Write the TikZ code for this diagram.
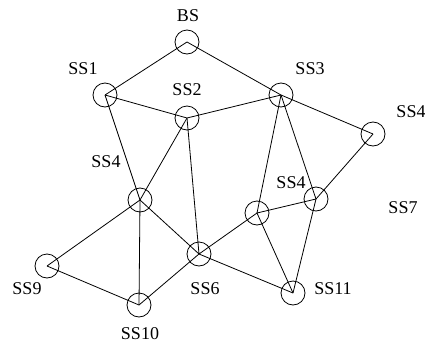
\documentclass[tikz,border=0pt]{standalone}
\usepackage{fontspec}
\setmainfont{Liberation Serif}
\usetikzlibrary{positioning}
\tikzset{
  station/.style = {draw, circle, line width=0.8pt, minimum size=24pt, inner sep=0pt},
  tag/.style     = {font=\fontsize{18}{20}\selectfont, inner sep=0pt},
  link/.style    = {draw, line width=0.8pt}
}

\begin{document}
\begin{tikzpicture}[x=1pt, y=-1pt, line width=0.8pt]

\useasboundingbox (0,0) rectangle (425,343);

% stations
\node[station] (bs)   at (187,42)  {};
\node[station] (ss1)  at (105,95)  {};
\node[station] (ss2)  at (187,118) {};
\node[station] (ss3)  at (281,95)  {};
\node[station] (ss4a) at (373,134) {};
\node[station] (ss4b) at (140,200) {};
\node[station] (ss4c) at (316,199) {};
\node[station] (nx)   at (257,213) {};
\node[station] (ss6)  at (199,254) {};
\node[station] (ss9)  at (47,266)  {};
\node[station] (ss10) at (139,305) {};
\node[station] (ss11) at (293,293) {};

% names
\node[tag] (tbs)   at (188,16)  {BS};
\node[tag] (tss1)  at (83,69)   {SS1};
\node[tag] (tss2)  at (187,90)  {SS2};
\node[tag] (tss3)  at (310,69)  {SS3};
\node[tag] (tss4a) at (411,112) {SS4};
\node[tag] (tss4b) at (106,162) {SS4};
\node[tag] (tss4c) at (291,183) {SS4};
\node[tag] (tss7)  at (403,208) {SS7};
\node[tag] (tss6)  at (205,289) {SS6};
\node[tag] (tss9)  at (27,289)  {SS9};
\node[tag] (tss10) at (140,334) {SS10};
\node[tag] (tss11) at (333,289) {SS11};

% links
\foreach \a/\b in {bs/ss1, bs/ss3, ss3/ss4a, ss1/ss2, ss2/ss3, ss1/ss4b,
                   ss2/ss4b, ss2/ss6, ss4b/ss9, ss4b/ss10, ss4b/ss6,
                   ss9/ss10, ss10/ss6, ss6/nx, ss6/ss11, ss3/nx, ss3/ss4c,
                   nx/ss4c, nx/ss11, ss4c/ss11, ss4a/ss4c}
  \draw[link] (\a.center) -- (\b.center);

\end{tikzpicture}
\end{document}
